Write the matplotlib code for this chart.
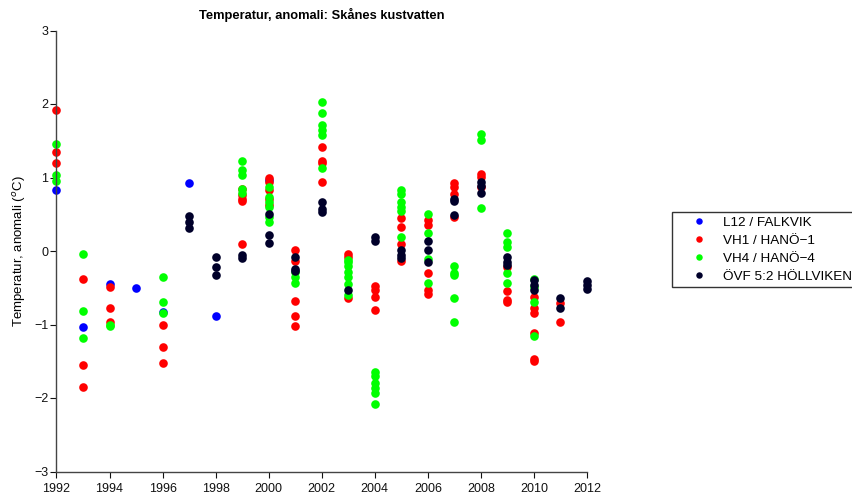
import matplotlib
matplotlib.use("Agg")
import matplotlib.pyplot as plt

plt.rcParams['font.family'] = ['Liberation Sans', 'DejaVu Sans']

title = "Temperatur, anomali: Skånes kustvatten"
ylabel = "Temperatur, anomali ($^{o}$C)"
series_names = ["L12 / FALKVIK", "VH1 / HANÖ\u22121", "VH4 / HANÖ\u22124", "ÖVF 5:2 HÖLLVIKEN"]
series_colors = ["#0000ff", "#ff0000", "#00ff00", "#00002a"]

# L12 / FALKVIK
l12_years = [1992, 1993, 1994, 1995, 1996, 1997, 1998, 2000]
l12_vals = [0.83, -1.03, -0.45, -0.51, -0.83, 0.92, -0.89, 0.97]

# VH1 / HANÖ-1
vh1_years = [1992, 1992, 1992,
             1993, 1993, 1993,
             1994, 1994, 1994,
             1996, 1996, 1996,
             1999, 1999, 1999, 1999, 1999,
             2000, 2000, 2000, 2000, 2000,
             2001, 2001, 2001, 2001, 2001,
             2002, 2002, 2002, 2002,
             2003, 2003, 2003,
             2004, 2004, 2004, 2004,
             2005, 2005, 2005, 2005,
             2006, 2006, 2006, 2006, 2006,
             2007, 2007, 2007, 2007,
             2008, 2008, 2008,
             2009, 2009, 2009, 2009,
             2010, 2010, 2010, 2010, 2010, 2010,
             2011, 2011]
vh1_vals = [1.92, 1.35, 1.20,
            -0.38, -1.55, -1.85,
            -0.49, -0.77, -0.96,
            -1.00, -1.31, -1.52,
            0.85, 0.76, 0.71, 0.68, 0.09,
            1.00, 0.94, 0.83, 0.71, 0.62,
            0.02, -0.13, -0.68, -0.89, -1.02,
            1.41, 1.23, 1.20, 0.94,
            -0.04, -0.08, -0.64,
            -0.48, -0.53, -0.63, -0.80,
            0.45, 0.32, 0.10, -0.14,
            0.42, 0.35, -0.30, -0.53, -0.59,
            0.92, 0.87, 0.77, 0.46,
            1.05, 1.01, 0.87,
            -0.22, -0.55, -0.67, -0.70,
            -0.63, -0.77, -0.85, -1.12, -1.47, -1.50,
            -0.71, -0.97]

# VH4 / HANÖ-4
vh4_years = [1992, 1992, 1992,
             1993, 1993, 1993,
             1994, 1994,
             1996, 1996, 1996,
             1999, 1999, 1999, 1999, 1999,
             2000, 2000, 2000, 2000, 2000, 2000,
             2001, 2001, 2001,
             2002, 2002, 2002, 2002, 2002, 2002,
             2003, 2003, 2003, 2003, 2003, 2003, 2003,
             2004, 2004, 2004, 2004, 2004, 2004,
             2005, 2005, 2005, 2005, 2005, 2005,
             2006, 2006, 2006, 2006,
             2007, 2007, 2007, 2007, 2007,
             2008, 2008, 2008,
             2009, 2009, 2009, 2009, 2009,
             2010, 2010, 2010, 2010]
vh4_vals = [1.45, 1.03, 0.95,
            -0.04, -0.81, -1.18,
            -1.00, -1.02,
            -0.35, -0.70, -0.85,
            1.23, 1.10, 1.03, 0.84, 0.79,
            0.87, 0.74, 0.67, 0.60, 0.46, 0.40,
            -0.29, -0.36, -0.44,
            2.03, 1.88, 1.72, 1.65, 1.58, 1.13,
            -0.12, -0.15, -0.21, -0.28, -0.35, -0.45, -0.60,
            -1.65, -1.70, -1.80, -1.87, -1.93, -2.08,
            0.83, 0.77, 0.67, 0.60, 0.54, 0.19,
            0.51, 0.24, -0.11, -0.43,
            -0.20, -0.30, -0.33, -0.64, -0.96,
            1.59, 1.51, 0.58,
            0.24, 0.12, 0.06, -0.30, -0.44,
            -0.38, -0.49, -0.70, -1.15]

# ÖVF 5:2 HÖLLVIKEN
ovf_years = [1997, 1997, 1997,
             1998, 1998, 1998,
             1999, 1999,
             2000, 2000, 2000,
             2001, 2001, 2001,
             2002, 2002, 2002,
             2003,
             2004, 2004,
             2005, 2005, 2005,
             2006, 2006, 2006,
             2007, 2007, 2007,
             2008, 2008, 2008,
             2009, 2009, 2009,
             2010, 2010, 2010,
             2011, 2011,
             2012, 2012, 2012]
ovf_vals = [0.47, 0.39, 0.31,
            -0.08, -0.22, -0.33,
            -0.05, -0.10,
            0.50, 0.22, 0.11,
            -0.08, -0.24, -0.27,
            0.67, 0.57, 0.53,
            -0.53,
            0.19, 0.14,
            0.01, -0.05, -0.09,
            0.13, 0.02, -0.15,
            0.71, 0.68, 0.49,
            0.94, 0.89, 0.79,
            -0.08, -0.15, -0.19,
            -0.40, -0.46, -0.53,
            -0.64, -0.77,
            -0.41, -0.46, -0.52]

x_ticks = list(range(1992, 2013, 2))
y_ticks = [-3, -2, -1, 0, 1, 2, 3]

fig = plt.figure(figsize=(8.53, 5.0), dpi=100)
ax = fig.add_axes([56.5 / 853, 28.5 / 500, (587 - 56.5) / 853, 441 / 500])

all_series = [(l12_years, l12_vals), (vh1_years, vh1_vals),
              (vh4_years, vh4_vals), (ovf_years, ovf_vals)]
for (xs, ys), name, col in zip(all_series, series_names, series_colors):
    ax.plot(xs, ys, linestyle='none', marker='o', markersize=6.2,
            markerfacecolor=col, markeredgecolor=col, markeredgewidth=0,
            label=name, clip_on=False)

ax.set_xlim(1992, 2012)
ax.set_ylim(-3, 3)
ax.set_xticks(x_ticks)
ax.set_yticks(y_ticks)
ax.tick_params(direction='out', length=4.5, width=0.8, labelsize=9, colors='#111111')
ax.tick_params(axis='x', pad=3.5)
ax.tick_params(axis='y', pad=1.5)
for s in ['top', 'right']:
    ax.spines[s].set_visible(False)
for s in ['left', 'bottom']:
    ax.spines[s].set_color('#444444')
    ax.spines[s].set_linewidth(1.0)

ax.set_title(title, fontsize=9.3, fontweight='bold', pad=8)
ax.set_ylabel(ylabel, fontsize=9.5, labelpad=4)

leg = ax.legend(loc='upper left', bbox_to_anchor=(672 / 853, 1 - 212 / 500),
                bbox_transform=fig.transFigure, frameon=True, fancybox=False,
                fontsize=9.7, numpoints=1, markerscale=0.75, handlelength=3.3,
                handletextpad=0.15, borderpad=0.33, labelspacing=0.41,
                borderaxespad=0)
leg.get_frame().set_edgecolor('#000000')
leg.get_frame().set_linewidth(1.0)

fig.savefig("out.png", dpi=100)
